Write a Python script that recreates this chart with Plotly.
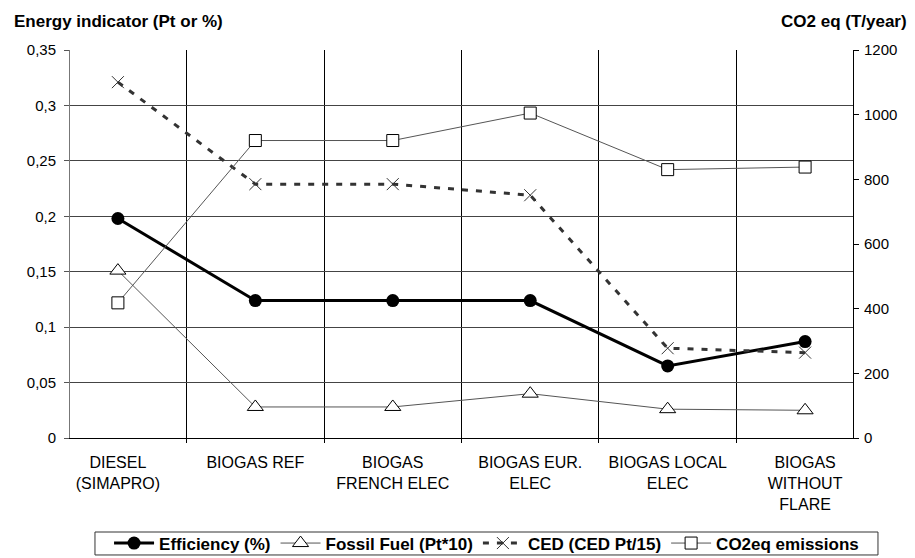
import plotly.graph_objects as go

categories = ["DIESEL<br>(SIMAPRO)", "BIOGAS REF", "BIOGAS<br>FRENCH ELEC",
              "BIOGAS EUR.<br>ELEC", "BIOGAS LOCAL<br>ELEC", "BIOGAS<br>WITHOUT<br>FLARE"]
efficiency = [0.198, 0.124, 0.124, 0.124, 0.065, 0.087]
fossil_fuel = [0.151, 0.028, 0.028, 0.040, 0.026, 0.025]
ced = [0.321, 0.229, 0.229, 0.219, 0.081, 0.077]
co2 = [418, 920, 920, 1005, 830, 838]

left_tickvals = [0, 0.05, 0.1, 0.15, 0.2, 0.25, 0.3, 0.35]
left_ticktext = ["0", "0,05", "0,1", "0,15", "0,2", "0,25", "0,3", "0,35"]
right_tickvals = [0, 200, 400, 600, 800, 1000, 1200]

FONT = "Liberation Sans, Arial, sans-serif"

fig = go.Figure()
fig.add_trace(go.Scatter(
    x=categories, y=efficiency, name="Efficiency (%)", mode="lines+markers",
    line=dict(color="black", width=3),
    marker=dict(symbol="circle", size=13, color="black")))
fig.add_trace(go.Scatter(
    x=categories, y=fossil_fuel, name="Fossil Fuel (Pt*10)", mode="lines+markers",
    line=dict(color="#555555", width=1),
    marker=dict(symbol="triangle-up", size=14, color="white",
                line=dict(color="black", width=1))))
fig.add_trace(go.Scatter(
    x=categories, y=ced, name="CED (CED Pt/15)", mode="lines+markers",
    line=dict(color="#333333", width=3, dash="6px,8px"),
    marker=dict(symbol="x-thin-open", size=12, color="#333333",
                line=dict(color="#333333", width=1))))
fig.add_trace(go.Scatter(
    x=categories, y=co2, name="CO2eq emissions", mode="lines+markers", yaxis="y2",
    line=dict(color="#555555", width=1),
    marker=dict(symbol="square", size=12, color="white",
                line=dict(color="black", width=1))))

fig.update_layout(
    width=907, height=550,
    margin=dict(l=62, r=62, t=42, b=120, autoexpand=False),
    paper_bgcolor="white", plot_bgcolor="white",
    font=dict(family=FONT, size=15, color="black"),
    showlegend=True,
    legend=dict(orientation="h", x=0.532, xanchor="center", y=-0.2719, yanchor="middle",
                borderwidth=0, bgcolor="rgba(0,0,0,0)", itemwidth=40,
                font=dict(family=FONT, size=17, color="black", weight="bold"),
                itemsizing="trace", tracegroupgap=0),
    xaxis=dict(type="category", tickson="boundaries", showgrid=True,
               gridcolor="black", gridwidth=1, ticks="outside", ticklen=4,
               tickcolor="black", showline=True, linecolor="black",
               ticklabelstandoff=10,
               tickfont=dict(family=FONT, size=16), zeroline=False),
    yaxis=dict(range=[0, 0.35], tickvals=left_tickvals, ticktext=left_ticktext,
               showgrid=True, gridcolor="#444444", gridwidth=1,
               ticks="outside", ticklen=5, tickcolor="#555555",
               showline=True, linecolor="#777777", zeroline=False,
               ticklabelstandoff=5,
               tickfont=dict(family=FONT, size=15)),
    yaxis2=dict(range=[0, 1200], tickvals=right_tickvals, overlaying="y", side="right",
                showgrid=False, ticks="outside", ticklen=5, tickcolor="black",
                showline=True, linecolor="black", zeroline=False,
                ticklabelstandoff=2,
                tickfont=dict(family=FONT, size=15)),
    shapes=[dict(type="rect", xref="paper", yref="paper",
                 x0=0.0319, x1=1.0319, y0=-0.3015, y1=-0.2423,
                 line=dict(color="#333333", width=1), fillcolor="rgba(0,0,0,0)")],
    annotations=[
        dict(text="<b>Energy indicator (Pt or %)</b>", xref="paper", yref="paper",
             x=-0.0741, y=1.0747, xanchor="left", yanchor="middle", showarrow=False,
             font=dict(family=FONT, size=17)),
        dict(text="<b>CO2 eq (T/year)</b>", xref="paper", yref="paper",
             x=1.0715, y=1.0747, xanchor="right", yanchor="middle", showarrow=False,
             font=dict(family=FONT, size=17)),
    ],
)

fig.write_html("out.html")
